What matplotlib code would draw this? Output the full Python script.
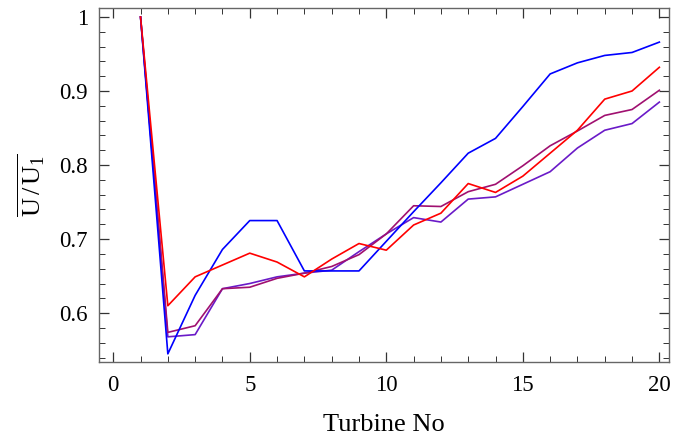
import matplotlib
matplotlib.use('Agg')
from matplotlib import pyplot as plt
from matplotlib.ticker import MultipleLocator

plt.rcParams['font.family'] = ['Liberation Serif', 'DejaVu Serif']
plt.rcParams['mathtext.fontset'] = 'custom'
plt.rcParams['mathtext.rm'] = 'Liberation Serif'
plt.rcParams['mathtext.it'] = 'Liberation Serif:italic'

turbine = list(range(1, 21))
blue = [1.0, 0.545, 0.624, 0.686, 0.725, 0.725, 0.657, 0.657, 0.657, 0.697,
        0.737, 0.776, 0.816, 0.836, 0.879, 0.923, 0.938, 0.948, 0.952, 0.966]
red = [1.0, 0.610, 0.649, 0.665, 0.681, 0.669, 0.649, 0.673, 0.694, 0.685,
       0.719, 0.735, 0.775, 0.763, 0.785, 0.816, 0.847, 0.889, 0.900, 0.932]
magenta = [1.0, 0.574, 0.583, 0.633, 0.635, 0.647, 0.654, 0.663, 0.679, 0.707,
           0.745, 0.744, 0.764, 0.774, 0.799, 0.826, 0.846, 0.867, 0.875, 0.901]
violet = [1.0, 0.568, 0.571, 0.633, 0.640, 0.649, 0.654, 0.658, 0.683, 0.707,
          0.729, 0.723, 0.754, 0.757, 0.774, 0.791, 0.823, 0.847, 0.856, 0.885]

fig = plt.figure(figsize=(6.75, 4.37), dpi=100)
ax = fig.add_axes([0.1467, 0.1716, 0.8443, 0.81])

ax.plot(turbine, violet, color='#6a1ac8', lw=1.2)
ax.plot(turbine, magenta, color='#a01070', lw=1.2)
ax.plot(turbine, blue, color='#0000ff', lw=1.2)
ax.plot(turbine, red, color='#ff0000', lw=1.2)

ax.set_xlim(-0.52, 20.35)
ax.set_ylim(0.534, 1.012)
ax.xaxis.set_major_locator(MultipleLocator(5))
ax.xaxis.set_minor_locator(MultipleLocator(1))
ax.yaxis.set_major_locator(MultipleLocator(0.1))
ax.yaxis.set_minor_locator(MultipleLocator(0.02))
ax.set_yticks([0.6, 0.7, 0.8, 0.9, 1.0])
ax.set_yticklabels(['0.6', '0.7', '0.8', '0.9', '1'])

for s in ax.spines.values():
    s.set_color('#666666')
    s.set_linewidth(1.0)
ax.tick_params(which='both', direction='in', top=True, right=True,
               color='#333333', labelsize=16.5)
ax.tick_params(axis='x', pad=9.5)
ax.tick_params(axis='y', pad=8)
ax.tick_params(which='major', length=7, width=0.9)
ax.tick_params(which='minor', length=4, width=0.7)

ax.set_xlabel('Turbine No', fontsize=19, labelpad=13)
ax.set_ylabel(r'$\overline{\mathrm{U}\,/\,\mathrm{U}_1}$', fontsize=19, labelpad=9)

plt.savefig('out.png', dpi=100)
